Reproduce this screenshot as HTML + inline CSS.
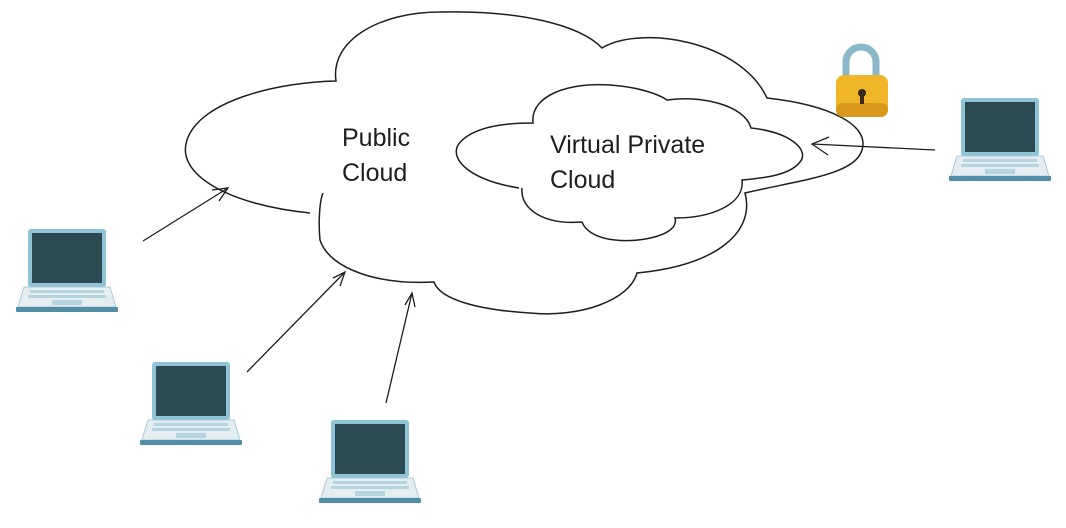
<!DOCTYPE html>
<html><head><meta charset="utf-8"><style>
html,body{margin:0;padding:0;background:#fff;}
svg{display:block}
text{font-family:"Liberation Sans",sans-serif;font-size:25px;fill:#1e1e1e}
</style></head><body>
<svg width="1066" height="528" viewBox="0 0 1066 528" xmlns="http://www.w3.org/2000/svg">
<defs>
<g id="lap">
  <rect x="12" y="0" width="78" height="58" rx="3" fill="#8fc3d6"/>
  <rect x="16" y="4" width="70" height="50" fill="#2c4a52"/>
  <path d="M8 58 H94 L100 78 H2 Z" fill="#e3edf2" stroke="#a9cbd8" stroke-width="1"/>
  <g fill="#b6d3de">
    <rect x="14" y="61" width="74" height="3"/>
    <rect x="12" y="66" width="78" height="3"/>
    <rect x="36" y="71" width="30" height="5"/>
  </g>
  <rect x="0" y="78" width="102" height="5" rx="1" fill="#4f8ea5"/>
</g>
</defs>

<g fill="none" stroke="#1e1e1e" stroke-width="1.5">
<!-- public cloud -->
<path d="M310 213 C230 205 175 175 187 140 C200 100 280 82 336 81
 C330 40 380 12 440 12 C520 10 580 25 602 48
 C640 25 740 40 767 98
 C830 105 870 125 862 150 C855 175 800 180 745 193
 C755 230 720 265 637 273
 C630 300 580 318 530 313 C480 310 440 300 434 282
 C380 285 330 270 320 240 C318 220 320 200 323 193"/>
<!-- VPC -->
<path d="M519 188 C470 180 450 160 458 145 C470 128 500 123 533 123
 C530 95 570 82 610 85 C640 87 660 95 667 100
 C700 95 745 105 751 128
 C790 132 810 150 800 162 C790 175 765 178 742 180
 C745 205 710 218 675 218
 C680 235 640 243 615 240 C595 238 585 230 582 222
 C545 225 520 210 522 188"/>
</g>

<g stroke="#1e1e1e" stroke-width="1.3" fill="none">
<path d="M143 241 L228 188"/><path d="M212 190 L228 188 L219 201"/>
<path d="M247 372 L345 272"/><path d="M333 278 L345 272 L340 286"/>
<path d="M386 403 L412 293"/><path d="M405 305 L412 293 L415 307"/>
<path d="M935 150 L812 144"/><path d="M829 137 L812 144 L828 155"/>
</g>

<text x="342" y="146">Public</text>
<text x="342" y="181">Cloud</text>
<text x="550" y="153">Virtual Private</text>
<text x="550" y="188">Cloud</text>

<!-- lock -->
<path d="M846 78 V62 a15 15 0 0 1 30 0 V78" fill="none" stroke="#8ab8c8" stroke-width="7"/>
<rect x="836" y="75" width="52" height="42" rx="8" fill="#f0b529"/>
<rect x="836" y="103" width="52" height="14" rx="7" fill="#d99a1c"/>
<circle cx="862" cy="93" r="4" fill="#3a2a1a"/>
<rect x="860" y="94" width="4" height="10" fill="#3a2a1a"/>

<use href="#lap" x="16" y="229"/>
<use href="#lap" x="140" y="362"/>
<use href="#lap" x="319" y="420"/>
<use href="#lap" x="949" y="98"/>
</svg>
</body></html>
